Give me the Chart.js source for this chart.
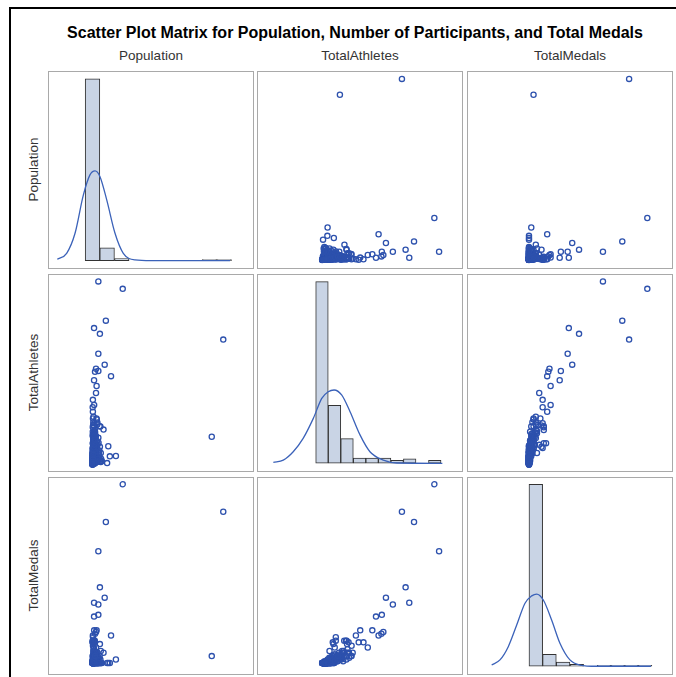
<!DOCTYPE html>
<html>
<head>
<meta charset="utf-8">
<script src="https://cdn.jsdelivr.net/npm/chart.js@4.4.1/dist/chart.umd.min.js"></script>
<style>
  html,body{margin:0;padding:0;background:#fff;}
  body{width:676px;height:677px;overflow:hidden;position:relative;font-family:"Liberation Sans",Arial,sans-serif;}
  #frame{position:absolute;left:9px;top:7px;width:720px;height:720px;border:2px solid #000;box-sizing:border-box;}
  #title{position:absolute;left:5px;width:700px;top:24px;text-align:center;font-weight:bold;font-size:16px;color:#000;white-space:nowrap;}
  .collab{position:absolute;top:48px;width:206px;text-align:center;font-size:13.5px;color:#333;}
  .rowlab{position:absolute;width:198px;text-align:center;font-size:13.5px;color:#333;transform:rotate(-90deg);transform-origin:center center;}
  .panel{position:absolute;border:1px solid #a9a9a9;box-sizing:border-box;width:206px;height:198px;background:#fff;}
  .panel canvas{position:absolute;left:0;top:0;}
</style>
</head>
<body>
<div id="frame"></div>
<div id="title">Scatter Plot Matrix for Population, Number of Participants, and Total Medals</div>
<script>
// ---------------- DATA ----------------
const varLabels = ['Population', 'TotalAthletes', 'TotalMedals'];

// one entry per country: population (millions), total athletes, total medals
const population = [
  310,1341,137,60,76,125,16,60,60,16,36,26,190,42,17,36,4,2,4,113,73,76,1223,240,178,150,162,96,88,85,81,50,41,16,19,24,49,44,10,5,8,11,3,6,21,9,4,30,3,3,5,14,28,5,11,
  1,2,3,5,7,9,12,0.5,1.5,4,6,8,10,13,15,18,20,22,25,28,31,34,40,45,52,58,64,70,3,6,2,8,11,4,7,14,17,23,26,33,1,2,3,5,9,12,16,19,0.3,0.8,1.2,2.5,3.5,6.5,10,15,24,30,36,48,55,1,4,5,9,13,20,7,2,27,35,44,60,16,3,1,0.6,2,
  0.1,0.2,0.4,0.7,0.9,1.1,1.4,1.8,2.2,2.8,3.2,3.8,4.5,5.5,6,7.5,8.5,9.5,11,12.5,14,16,18,21,24,27,30,35,39,43,47,53,62,68,72,80,85,
  0.5,1,1.5,2,2.5,3,3.5,4,5,6,7,8,9,10,12,14,18,22,26,31,37,42,48,56,63,0.3,0.6,1.3,2.1,3.3,4.8,6.8,9,11.5,15,19,25
];
const totalAthletes = [
  520,370,426,542,387,296,404,328,277,250,284,275,262,233,177,212,192,170,157,104,114,53,83,26,25,5,55,11,18,35,113,125,137,114,123,103,119,134,142,137,126,118,111,116,93,93,84,79,50,64,64,59,49,34,72,
  4,6,8,3,10,12,15,2,5,7,9,14,18,20,22,16,25,11,30,9,33,13,19,27,24,36,21,42,28,32,38,41,45,48,52,56,36,44,58,62,24,18,14,21,26,35,40,48,3,9,12,16,20,23,5,7,4,6,15,10,14,31,35,44,60,67,71,75,88,96,85,70,80,100,98,2,1,1,
  1,2,3,4,5,6,7,8,9,10,11,12,13,14,16,17,19,21,23,25,27,29,31,34,37,39,42,46,50,54,57,61,65,30,20,12,8,
  14,19,23,27,31,36,40,45,50,55,61,66,70,76,82,90,95,86,68,58,47,38,26,18,9,6,10,13,17,22,28,33,39,44,52,60,74
];
const totalMedals = [
  104,88,82,65,44,38,35,34,28,27,18,17,16,19,19,9,12,12,16,6,4,11,4,2,0,0,0,0,0,7,2,6,4,13,12,13,6,4,6,10,3,8,13,11,3,7,2,6,12,13,15,9,4,3,1,
  0,0,0,0,0,1,0,0,0,0,0,0,1,0,0,0,0,0,1,0,2,0,0,0,1,0,0,2,1,2,0,3,1,4,0,2,0,3,5,2,0,0,0,0,0,1,0,2,0,0,0,0,0,0,0,0,0,0,0,0,0,1,1,2,5,3,4,2,4,5,3,1,3,7,1,0,0,0,
  0,0,0,0,0,0,0,0,0,0,0,0,0,0,0,0,0,0,0,0,0,0,0,1,0,0,1,0,2,1,0,1,3,0,0,0,0,
  0,0,0,0,1,0,1,0,2,1,3,2,4,3,5,2,6,4,2,3,1,0,0,0,0,0,0,0,0,1,0,0,1,0,2,1,4
];

// diagonal histograms: bin midpoints and percent of countries
const popBinMid = [0,150,300,450,600,750,900,1050,1200,1350];
const popBinPct = [91.5,6.5,1.0,null,null,null,null,null,0.5,0.5];
const athBinMid = [0,58,116,174,232,290,348,406,464,522];
const athBinPct = [62.7,20.0,8.5,1.8,1.8,1.8,1.0,1.5,null,1.0];
const medBinMid = [6,18,30,42,54,66,78,90,102];
const medBinPct = [89.2,5.9,2.0,1.0,null,0.5,0.5,0.5,0.5];

// fitted normal density curves (percent)
const popCurveX = [-361,-265,-179,-94,-26,26,77,146,231,316,436,600,1000,1410];
const popCurveY = [0.7,3.7,13.8,33.0,43.2,45.2,42.3,30.6,13.8,3.7,0.35,0,0,0];
const athCurveX = [-225,-179,-133,-87,-40,-1,29,56,91,130,176,222,284,346,557];
const athCurveY = [0.35,1.1,4.0,8.6,15.5,22.4,24.7,25.3,23.6,17.8,9.8,4.0,1.1,0.1,0];
const medCurveX = [-32.8,-25.5,-18.2,-10.8,-3.5,2.4,6.8,12.6,19.9,27.2,36,44.8,59.5,107.2];
const medCurveY = [0.6,3.1,9.6,20.2,30.9,34.5,35.4,32.5,22.7,11.3,3.1,0.6,0,0];

// ---------------- LAYOUT / STYLE ----------------
const vars = [population, totalAthletes, totalMedals];
const hists = [
  {mid: popBinMid, pct: popBinPct, cx: popCurveX, cy: popCurveY},
  {mid: athBinMid, pct: athBinPct, cx: athCurveX, cy: athCurveY},
  {mid: medBinMid, pct: medBinPct, cx: medCurveX, cy: medCurveY}
];
const colLeft = [48, 257, 467];
const rowTop = [71, 274, 477];
const colX = [[-446, 1646], [-296, 648], [-53.6, 125.7]];   // x range per column
const rowY = [[-60, 1392], [-18.3, 560.9], [-6.4, 107.6]];  // y range per row
const diagY = [[-3.7, 95.0], [-2.66, 65.0], [-3.8, 92.3]];  // percent range on diagonal

const MARK = '#2d51ad';

function baseOptions(xr, yr) {
  return {
    responsive: false, animation: false, devicePixelRatio: 1, events: [],
    layout: {padding: 0, autoPadding: false},
    plugins: {legend: {display: false}, tooltip: {enabled: false}, title: {display: false}},
    scales: {
      x: {type: 'linear', display: false, min: xr[0], max: xr[1], offset: false},
      y: {type: 'linear', display: false, min: yr[0], max: yr[1]}
    }
  };
}

for (let j = 0; j < 3; j++) {
  const d = document.createElement('div');
  d.className = 'collab';
  d.style.left = colLeft[j] + 'px';
  d.textContent = varLabels[j];
  document.body.appendChild(d);
}
for (let i = 0; i < 3; i++) {
  const d = document.createElement('div');
  d.className = 'rowlab';
  d.style.left = (33 - 99) + 'px';
  d.style.top = (rowTop[i] + 99 - 8) + 'px';
  d.textContent = varLabels[i];
  document.body.appendChild(d);
}

for (let i = 0; i < 3; i++) {
  for (let j = 0; j < 3; j++) {
    const p = document.createElement('div');
    p.className = 'panel';
    p.style.left = colLeft[j] + 'px';
    p.style.top = rowTop[i] + 'px';
    const c = document.createElement('canvas');
    c.width = 204; c.height = 196;
    c.style.width = '204px'; c.style.height = '196px';
    p.appendChild(c);
    document.body.appendChild(p);

    if (i === j) {
      const h = hists[i];
      new Chart(c, {
        type: 'bar',
        data: {
          datasets: [
            {
              type: 'line', order: 1,
              data: h.cx.map((x, k) => ({x: x, y: h.cy[k]})),
              borderColor: '#3b62b9', borderWidth: 1.3, pointRadius: 0,
              cubicInterpolationMode: 'monotone', fill: false
            },
            {
              type: 'bar', order: 2,
              data: h.mid.map((x, k) => ({x: x, y: h.pct[k]})),
              backgroundColor: '#c9d4e5', borderColor: '#333333', borderWidth: 1,
              borderSkipped: false, barPercentage: 1, categoryPercentage: 1
            }
          ]
        },
        options: baseOptions(colX[j], diagY[i])
      });
    } else {
      const xs = vars[j], ys = vars[i];
      new Chart(c, {
        type: 'scatter',
        data: {
          datasets: [{
            data: xs.map((x, k) => ({x: x, y: ys[k]})),
            pointStyle: 'circle', pointRadius: 2.6, pointBorderWidth: 1.3,
            borderColor: MARK, backgroundColor: 'rgba(0,0,0,0)'
          }]
        },
        options: baseOptions(colX[j], rowY[i])
      });
    }
  }
}
</script>
</body>
</html>
